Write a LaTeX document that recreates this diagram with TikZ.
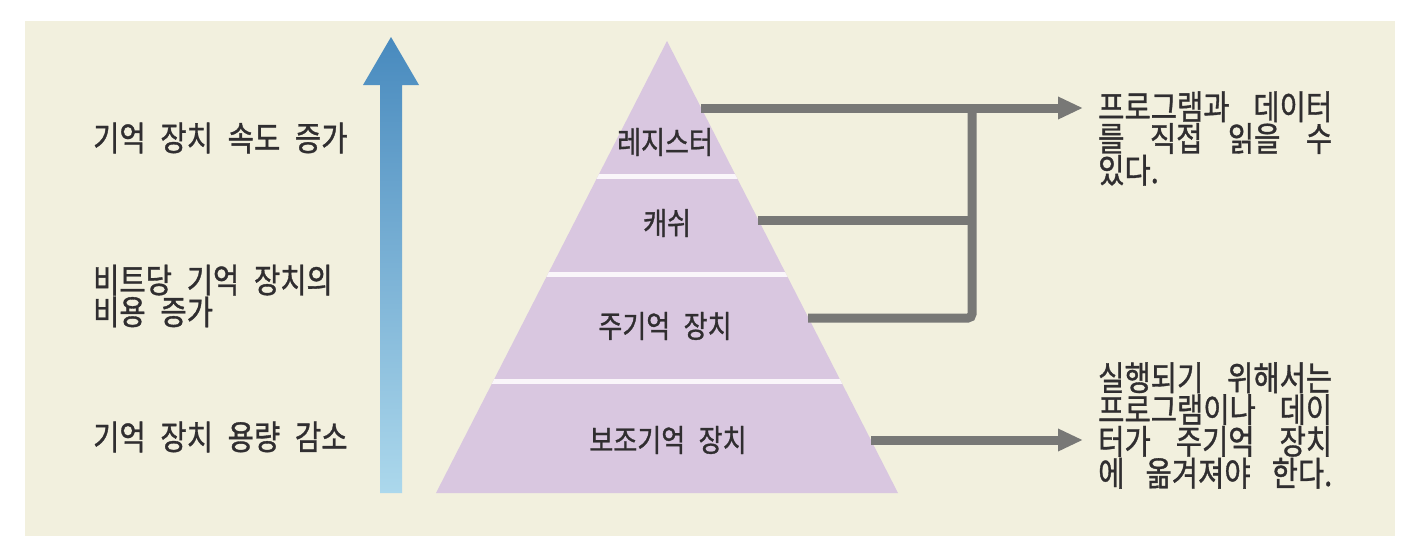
\documentclass[tikz,border=0pt]{standalone}
\usepackage{fontspec}
\setmainfont[WordSpace=2.3,FakeStretch=0.84,FakeBold=1]{Noto Sans CJK KR}
\usetikzlibrary{arrows.meta}
\definecolor{panelbg}{RGB}{242,240,222}
\definecolor{pyr}{RGB}{217,199,224}
\definecolor{sepline}{RGB}{250,246,250}
\definecolor{connc}{RGB}{120,120,118}
\definecolor{bluetop}{RGB}{72,138,190}
\definecolor{bluebot}{RGB}{172,216,236}
\definecolor{txt}{RGB}{48,46,48}
\begin{document}
\begin{tikzpicture}[x=1pt,y=-1pt,
  lbl/.style={font=\fontsize{34}{27}\selectfont, text=txt, inner sep=0pt, anchor=west, align=left},
  note/.style={font=\fontsize{34}{29.5}\selectfont, text=txt, inner sep=0pt, anchor=west, align=left},
  plbl/.style={font=\fontsize{31}{31}\selectfont, text=txt, inner sep=0pt},
  connline/.style={draw=connc, line width=9pt},
  connarrow/.style={connline, -{Triangle[length=25pt,width=21pt]}}]
\useasboundingbox (0,0) rectangle (1422,558);
\fill[white] (0,0) rectangle (1422,558);
\fill[panelbg] (25,21) rectangle (1395,536);

% blue arrow
\shade[top color=bluetop, bottom color=bluebot]
  (380,493) -- (380,85) -- (363,85) -- (391,37) -- (419,85) -- (402,85) -- (402,493) -- cycle;

% left labels
\node[lbl] (l1) at (93,138) {기억 장치 속도 증가};
\node[lbl] (l2) at (93,296) {비트당 기억 장치의\\비용 증가};
\node[lbl] (l3) at (93,437) {기억 장치 용량 감소};

% pyramid
\fill[pyr] (667,41) -- (898,493) -- (436,493) -- cycle;
\begin{scope}
  \clip (667,41) -- (898,493) -- (436,493) -- cycle;
  \draw[sepline, line width=5pt] (400,176) -- (940,176);
  \draw[sepline, line width=5pt] (400,274) -- (940,274);
  \draw[sepline, line width=5pt] (400,381) -- (940,381);
\end{scope}

\node[plbl] (reg) at (665,142) {레지스터};
\node[plbl] (cache) at (667,223) {캐쉬};
\node[plbl] (mainmem) at (665,326) {주기억 장치};
\node[plbl] (aux) at (668,440) {보조기억 장치};

% connector points on the pyramid edge
\coordinate (regR) at (701,108);
\coordinate (cacheR) at (758,220);
\coordinate (mainR) at (808,318);
\coordinate (auxR) at (871,440);
\coordinate (junc) at (972,108);
\coordinate (t1) at (1083,108);
\coordinate (t2) at (1083,440);

\draw[connarrow] (regR) -- (t1);
\draw[connline] (cacheR) -- (cacheR -| junc);
\draw[connline, rounded corners=4pt] (mainR) -- (mainR -| junc) -- (junc);
\draw[connarrow] (auxR) -- (t2);

% right notes
\node[note] (r1) at (1098,138.5) {\makebox[234pt][s]{프로그램과 데이터}\\
  \makebox[234pt][s]{를 직접 읽을 수}\\
  있다.};
\node[note] (r2) at (1098,425.5) {\makebox[234pt][s]{실행되기 위해서는}\\
  \makebox[234pt][s]{프로그램이나 데이}\\
  \makebox[234pt][s]{터가 주기억 장치}\\
  \makebox[234pt][s]{에 옮겨져야 한다.}};
\end{tikzpicture}
\end{document}
